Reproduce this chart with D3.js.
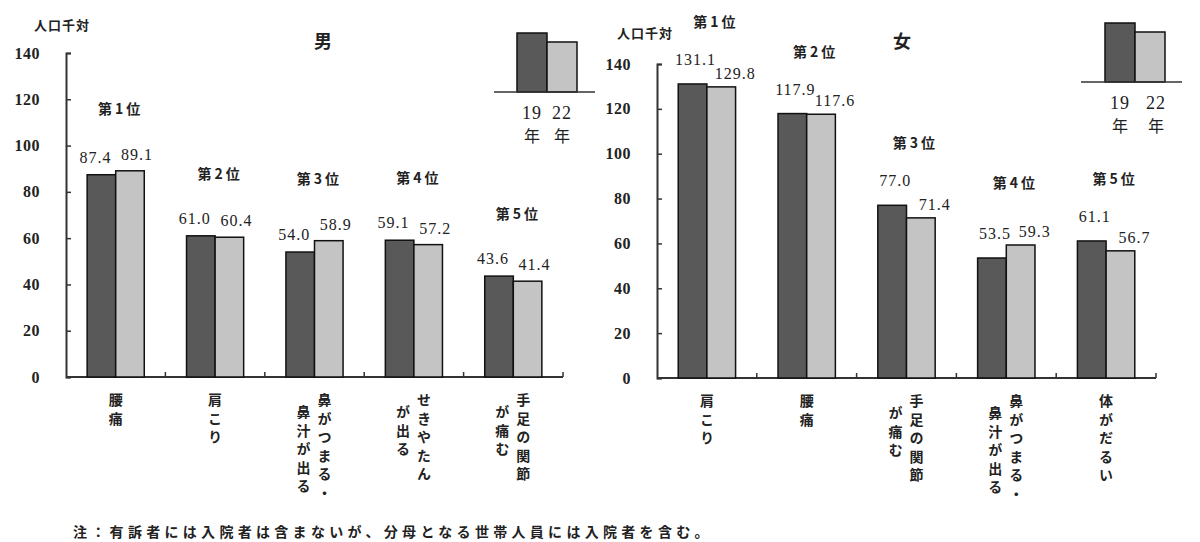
<!DOCTYPE html>
<html lang="ja">
<head>
<meta charset="UTF-8">
<title>有訴者率の上位5症状</title>
<script src="https://d3js.org/d3.v7.min.js"></script>
<style>
    body { margin: 0; background: #fff; }
    svg { display: block; }
    .num { font-family: "Liberation Serif", "DejaVu Serif", serif; fill: #222; }
    .jp { font-family: "Noto Sans CJK JP", sans-serif; fill: #222; }
    .vert { writing-mode: vertical-rl; }
</style>
</head>
<body>
<svg id="chart" width="1200" height="542"></svg>
<script>
// data (人口千対)
const maleCategories = [["腰痛"], ["肩こり"], ["鼻がつまる・", "鼻汁が出る"], ["せきやたん", "が出る"], ["手足の関節", "が痛む"]];
const male19 = [87.4, 61.0, 54.0, 59.1, 43.6];
const male22 = [89.1, 60.4, 58.9, 57.2, 41.4];

const femaleCategories = [["肩こり"], ["腰痛"], ["手足の関節", "が痛む"], ["鼻がつまる・", "鼻汁が出る"], ["体がだるい"]];
const female19 = [131.1, 117.9, 77.0, 53.5, 61.1];
const female22 = [129.8, 117.6, 71.4, 59.3, 56.7];

const ranks = ["第1位", "第2位", "第3位", "第4位", "第5位"];
const years = ["19", "22"];
const yTicks = [0, 20, 40, 60, 80, 100, 120, 140];
const note = "注：有訴者には入院者は含まないが、分母となる世帯人員には入院者を含む。";

const colors = ["#595959", "#c4c4c4"];

const svg = d3.select("#chart");

function drawPanel(cfg) {
    const g = svg.append("g");
    const idx = d3.range(cfg.categories.length);

    const y = d3.scaleLinear().domain([0, 140]).range([cfg.yBottom, cfg.yTop]);
    const x = d3.scaleBand().domain(idx).range([cfg.x0, cfg.x1]);
    const xs = d3.scaleBand().domain([0, 1]).range([0, x.bandwidth()]).paddingOuter(0.74);

    // y axis, ticks pointing inward
    const yAxis = g.append("g")
        .attr("transform", `translate(${cfg.x0},0)`)
        .call(d3.axisLeft(y).tickValues(yTicks).tickSizeInner(-5).tickSizeOuter(-5).tickPadding(26));
    yAxis.select(".domain").attr("stroke", "#333").attr("stroke-width", 2);
    yAxis.selectAll(".tick line").attr("stroke", "#333").attr("stroke-width", 1.5);
    yAxis.selectAll(".tick text")
        .attr("class", "num")
        .style("font-size", "16px")
        .style("font-weight", "bold")
        .style("letter-spacing", "0.5px");

    // x axis with separators
    g.append("line")
        .attr("x1", cfg.x0).attr("x2", cfg.x1)
        .attr("y1", y(0)).attr("y2", y(0))
        .attr("stroke", "#333").attr("stroke-width", 2);
    g.selectAll(".sep")
        .data(idx)
        .enter().append("line")
        .attr("x1", d => x(d) + x.step()).attr("x2", d => x(d) + x.step())
        .attr("y1", y(0)).attr("y2", y(0) - 5)
        .attr("stroke", "#333").attr("stroke-width", 1.5);

    const series = [cfg.v19, cfg.v22];

    // bars
    series.forEach((vals, s) => {
        g.selectAll(".bar" + s)
            .data(vals)
            .enter().append("rect")
            .attr("x", (d, i) => x(i) + xs(s))
            .attr("y", d => y(d))
            .attr("width", xs.bandwidth())
            .attr("height", d => y(0) - y(d))
            .attr("fill", colors[s])
            .attr("stroke", "#111")
            .attr("stroke-width", 1.5);

        g.selectAll(".val" + s)
            .data(vals)
            .enter().append("text")
            .attr("class", "num")
            .attr("x", (d, i) => x(i) + xs(s) + xs.bandwidth() / 2 + cfg.labelDx[s])
            .attr("y", d => y(d) + cfg.labelDy[s])
            .attr("text-anchor", "middle")
            .style("font-size", "16px")
            .style("letter-spacing", "1px")
            .text(d => d.toFixed(1));
    });

    // rank labels above each group
    g.selectAll(".rank")
        .data(ranks)
        .enter().append("text")
        .attr("class", "jp")
        .attr("x", (d, i) => x(i) + x.bandwidth() / 2 + cfg.rankDx)
        .attr("y", (d, i) => y(Math.max(cfg.v19[i], cfg.v22[i])) - 57)
        .attr("text-anchor", "middle")
        .style("font-size", "14px")
        .style("font-weight", "bold")
        .style("letter-spacing", "3px")
        .text(d => d);

    // vertical category labels (first column on the right)
    idx.forEach(i => {
        const cols = cfg.categories[i];
        const cx = x(i) + x.bandwidth() / 2;
        cols.forEach((txt, c) => {
            const off = cols.length === 1 ? 0 : (c === 0 ? 10 : -11);
            g.append("text")
                .attr("class", "jp vert")
                .attr("x", cx + off)
                .attr("y", y(0) + 16 + c * 12)
                .style("font-size", "14px")
                .style("font-weight", "bold")
                .style("letter-spacing", "4.5px")
                .text(txt);
        });
    });

    // unit and title
    g.append("text").attr("class", "jp")
        .attr("x", cfg.unitX).attr("y", cfg.unitY)
        .attr("text-anchor", "middle")
        .style("font-size", "13px").style("font-weight", "bold")
        .style("letter-spacing", "1px")
        .text("人口千対");
    g.append("text").attr("class", "jp")
        .attr("x", cfg.titleX).attr("y", 48)
        .attr("text-anchor", "middle")
        .style("font-size", "18px")
        .style("font-weight", "bold")
        .text(cfg.title);

    // legend
    const lg = cfg.legend;
    const lh = [59, 50];
    years.forEach((yr, s) => {
        const bx = lg.x + s * 30;
        g.append("rect")
            .attr("x", bx).attr("y", lg.base - lh[s])
            .attr("width", 30).attr("height", lh[s])
            .attr("fill", colors[s]).attr("stroke", "#111").attr("stroke-width", 1.5);
        g.append("text").attr("class", "num")
            .attr("x", bx + 15 + lg.dx[s]).attr("y", lg.base + 27)
            .attr("text-anchor", "middle")
            .style("font-size", "18px")
            .style("letter-spacing", "1px")
            .text(yr);
        g.append("text").attr("class", "jp")
            .attr("x", bx + 15 + lg.dx[s]).attr("y", lg.base + 50)
            .attr("text-anchor", "middle")
            .style("font-size", "16px")
            .text("年");
    });
    g.append("line")
        .attr("x1", lg.lx0).attr("x2", lg.lx1)
        .attr("y1", lg.base).attr("y2", lg.base)
        .attr("stroke", "#333").attr("stroke-width", 1.5);
}

drawPanel({
    title: "男", categories: maleCategories, v19: male19, v22: male22,
    x0: 66, x1: 563, yTop: 53, yBottom: 377,
    labelDx: [-6, 7], labelDy: [-12, -11], rankDx: 5,
    unitX: 62, unitY: 30, titleX: 323,
    legend: { x: 517, base: 92, lx0: 494, lx1: 595, dx: [0, 0] }
});

drawPanel({
    title: "女", categories: femaleCategories, v19: female19, v22: female22,
    x0: 657, x1: 1156, yTop: 64, yBottom: 378,
    labelDx: [3, 14], labelDy: [-19, -8], rankDx: 9,
    unitX: 645, unitY: 38, titleX: 902,
    legend: { x: 1105, base: 82, lx0: 1081, lx1: 1182, dx: [0, 6] }
});

svg.append("text")
    .attr("class", "jp")
    .attr("x", 73).attr("y", 537)
    .style("font-size", "14px")
    .style("font-weight", "bold")
    .style("letter-spacing", "4.3px")
    .text(note);
</script>
</body>
</html>
